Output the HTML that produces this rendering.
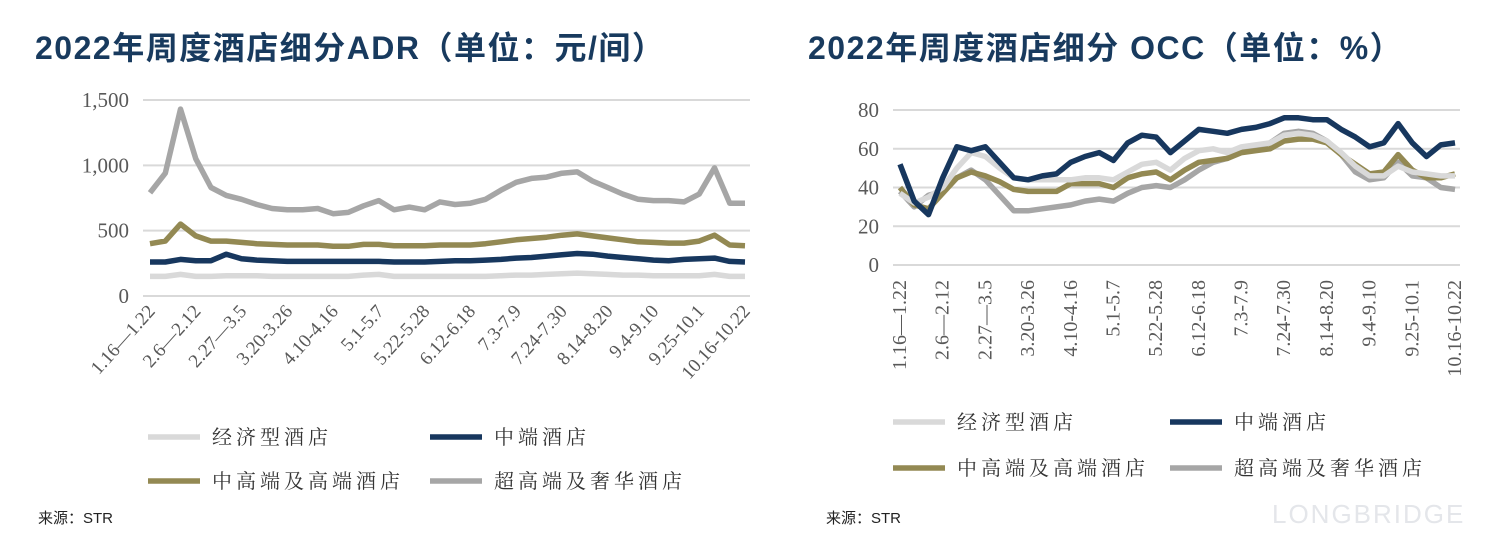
<!DOCTYPE html>
<html><head><meta charset="utf-8">
<style>
body{margin:0;width:1500px;height:545px;background:#fff;overflow:hidden;font-family:"Liberation Sans","Noto Sans CJK SC",sans-serif;}
svg{position:absolute;left:0;top:0}
</style></head>
<body>
<svg id="s" width="1500" height="545">
<text x="35" y="59" font-size="32" font-weight="bold" fill="#183a5e" letter-spacing="1.5" font-family="Liberation Sans,Noto Sans CJK SC,sans-serif">2022年周度酒店细分ADR（单位：元/间）</text>
<text x="808" y="59" font-size="32" font-weight="bold" fill="#183a5e" letter-spacing="1.5" font-family="Liberation Sans,Noto Sans CJK SC,sans-serif">2022年周度酒店细分 OCC（单位：%）</text>
<text x="38" y="523" font-size="15" fill="#222">来源：STR</text>
<text x="826" y="523" font-size="15" fill="#222">来源：STR</text>
<text x="1272" y="523" font-size="26" fill="#e4e6ea" letter-spacing="2">LONGBRIDGE</text>
<g id="L"></g><g id="R"></g>
</svg>
<script>
const xLabels=["1.16—1.22","2.6—2.12","2.27—3.5","3.20-3.26","4.10-4.16","5.1-5.7","5.22-5.28","6.12-6.18","7.3-7.9","7.24-7.30","8.14-8.20","9.4-9.10","9.25-10.1","10.16-10.22"];
const seriesNames=["经济型酒店","中端酒店","中高端及高端酒店","超高端及奢华酒店"];
const colors=["#d9d9d9","#17375e","#938953","#a6a6a6"];
const adrTicks=[0,500,1000,1500];
const adrEconomy=[150,150,165,150,150,155,155,155,150,150,150,150,150,150,160,165,150,150,150,150,150,150,150,155,160,160,165,170,175,170,165,160,160,155,155,155,155,165,150,150];
const adrMid=[260,260,280,270,270,320,285,275,270,265,265,265,265,265,265,265,260,260,260,265,270,270,275,280,290,295,305,315,325,320,305,295,285,275,270,280,285,290,265,260];
const adrUpper=[400,420,550,460,420,420,410,400,395,390,390,390,380,380,395,395,385,385,385,390,390,390,400,415,430,440,450,465,475,460,445,430,415,410,405,405,420,465,390,385];
const adrLuxury=[790,940,1430,1050,830,770,740,700,670,660,660,670,630,640,690,730,660,680,660,720,700,710,740,810,870,900,910,940,950,880,830,780,740,730,730,720,780,980,710,710];
const occTicks=[0,20,40,60,80];
const occEconomy=[37,32,35,40,50,58,56,50,45,44,44,44,44,45,45,44,48,52,53,49,55,59,60,58,61,62,63,67,68,67,64,58,51,46,46,51,48,47,46,46];
const occMid=[52,33,26,45,61,59,61,53,45,44,46,47,53,56,58,54,63,67,66,58,64,70,69,68,70,71,73,76,76,75,75,70,66,61,63,73,63,56,62,63];
const occUpper=[40,31,29,37,45,48,46,43,39,38,38,38,42,42,42,40,45,47,48,44,49,53,54,55,58,59,60,64,65,65,63,57,52,47,48,57,49,45,45,47];
const occLuxury=[38,30,36,38,45,49,44,36,28,28,29,30,31,33,34,33,37,40,41,40,44,49,53,55,60,61,63,68,69,68,64,57,48,44,45,53,46,45,40,39];
const NS="http://www.w3.org/2000/svg";
function mk(p,t,a){const e=document.createElementNS(NS,t);for(const k in a)e.setAttribute(k,a[k]);p.appendChild(e);return e;}
function draw(g,cfg){
 const n=cfg.series[0].length;
 const x=i=>cfg.x0+(cfg.x1-cfg.x0)*i/(n-1);
 const y=v=>cfg.y0-(cfg.y0-cfg.y1)*(v-cfg.ticks[0])/(cfg.ticks[cfg.ticks.length-1]-cfg.ticks[0]);
 cfg.ticks.forEach(t=>{
  const l=mk(g,'line',{x1:cfg.gx0,x2:cfg.gx1,y1:y(t),y2:y(t),stroke:'#d9d9d9','stroke-width':2});
  
  
  const tx=mk(g,'text',{x:cfg.gx0-14,y:y(t)+7,'text-anchor':'end','font-size':21,fill:'#595959','font-family':'Liberation Serif,serif'});
  tx.textContent=cfg.fmt(t);
  
  
 });
 xLabels.forEach((s,k)=>{
  const xi=x(k*3);
  const tx=mk(g,'text',{x:0,y:0,'text-anchor':'end','font-size':cfg.lfs,fill:'#595959','font-family':'Liberation Serif,Noto Serif CJK SC,serif',transform:`translate(${xi+6},${cfg.ly}) rotate(${cfg.rot})`});
  tx.textContent=s;
  
  
 });
 [3,2,0,1].forEach(si=>{
  const d=cfg.series[si].map((v,i)=>(i?'L':'M')+x(i).toFixed(1)+','+y(v).toFixed(1)).join('');
  const p=mk(g,'path',{d:d,fill:'none',stroke:colors[si],'stroke-width':5.5,'stroke-linejoin':'round'});
  
  
 });
 cfg.legend.forEach((pos,si)=>{
  const l=mk(g,'line',{x1:pos[0],x2:pos[0]+52,y1:pos[1],y2:pos[1],stroke:colors[si],'stroke-width':5.5});
  
  
  const t=mk(g,'text',{x:pos[0]+64,y:pos[1]+7,'font-size':20,fill:'#333','letter-spacing':4,'font-family':'Noto Serif CJK SC,serif'});
  t.textContent=seriesNames[si];
  
  
 });
}
draw(document.getElementById('L'),{series:[adrEconomy,adrMid,adrUpper,adrLuxury],ticks:adrTicks,x0:150,x1:745,y0:296,y1:100,gx0:143,gx1:750,ly:312,rot:-48,lfs:19,fmt:v=>v.toLocaleString('en-US'),legend:[[148,437],[430,437],[148,481],[430,481]]});
draw(document.getElementById('R'),{series:[occEconomy,occMid,occUpper,occLuxury],ticks:occTicks,x0:900,x1:1455,y0:265,y1:110,gx0:893,gx1:1460,ly:280,rot:-90,lfs:20,fmt:v=>String(v),legend:[[893,422],[1170,422],[893,468],[1170,468]]});
</script>
</body></html>
